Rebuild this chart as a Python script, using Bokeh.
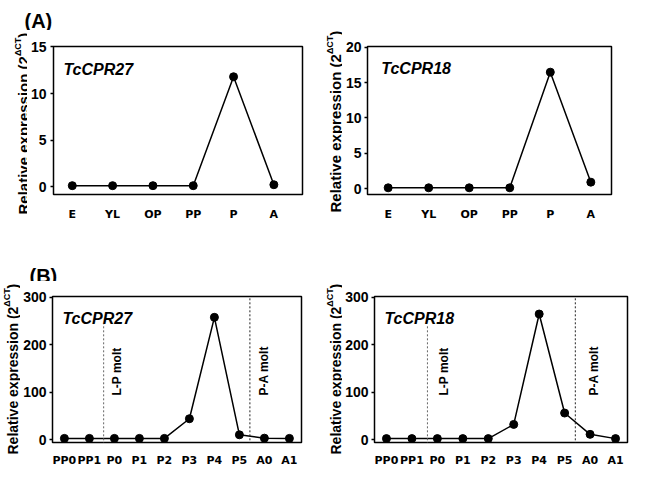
from math import pi
from bokeh.plotting import figure
from bokeh.layouts import row, column
from bokeh.models import FixedTicker, Label, Range1d
from bokeh.embed import file_html
from bokeh.resources import INLINE

# ---------------- data ----------------
stages_a = ["E", "YL", "OP", "PP", "P", "A"]
a27 = [0.1, 0.1, 0.1, 0.1, 11.8, 0.2]
a18 = [0.1, 0.1, 0.1, 0.1, 16.5, 0.9]

stages_b = ["PP0", "PP1", "P0", "P1", "P2", "P3", "P4", "P5", "A0", "A1"]
b27 = [2.5, 2.5, 2.5, 2.5, 2.5, 44, 258, 10, 3, 2.5]
b18 = [2, 2, 2, 2, 2, 32, 265, 56, 11, 2]

yticks_a27 = [0, 5, 10, 15]
yticks_a18 = [0, 5, 10, 15, 20]
yticks_b = [0, 100, 200, 300]

molt_labels = ["L-P molt", "P-A molt"]
molt_x_27 = [1.57, 7.42]
molt_x_18 = [1.61, 7.42]
molt_top_27 = [244, 302]
molt_top_18 = [240, 302]

genes = ["TcCPR27", "TcCPR18"]
panel_tags = ["(A)", "(B)"]
ylabel_parts = ["Relative expression (2", "\u0394CT", ")"]

BOLD = "Liberation Sans"


def no_align(p):
    try:
        p.frame_align = False
    except Exception:
        pass


def make(cats, vals, xr, yr, yticks, w, h, bl, br, bt, bb, tick_out, ystand, xstand):
    p = figure(width=w, height=h, x_range=Range1d(*xr), y_range=Range1d(*yr),
               output_backend="svg", toolbar_location=None, title=None,
               min_border_left=bl, min_border_right=br,
               min_border_top=bt, min_border_bottom=bb)
    no_align(p)
    p.background_fill_color = "white"
    p.border_fill_color = "white"
    p.outline_line_color = "black"
    p.outline_line_width = 1.5
    p.xgrid.visible = False
    p.ygrid.visible = False
    x = list(range(len(cats)))
    p.line(x, vals, line_color="black", line_width=1.5)
    p.scatter(x, vals, size=8, fill_color="black", line_color="black")

    p.xaxis.ticker = FixedTicker(ticks=x)
    p.xaxis.major_label_overrides = {i: c for i, c in enumerate(cats)}
    p.xaxis.axis_line_color = None
    p.xaxis.major_tick_out = 0
    p.xaxis.major_tick_in = 0
    p.xaxis.minor_tick_line_color = None
    p.xaxis.major_label_standoff = xstand
    p.xaxis.major_label_text_font = "DejaVu Sans"
    p.xaxis.major_label_text_font_style = "bold"
    p.xaxis.major_label_text_font_size = "11px"
    p.xaxis.major_label_text_color = "black"

    p.yaxis.ticker = FixedTicker(ticks=yticks)
    p.yaxis.axis_line_color = None
    p.yaxis.major_tick_out = tick_out
    p.yaxis.major_tick_in = 0
    p.yaxis.major_tick_line_width = 1.5
    p.yaxis.major_tick_line_color = "black"
    p.yaxis.minor_tick_line_color = None
    p.yaxis.major_label_standoff = ystand
    p.yaxis.major_label_text_font = BOLD
    p.yaxis.major_label_text_font_style = "bold"
    p.yaxis.major_label_text_font_size = "14px"
    p.yaxis.major_label_text_color = "black"
    return p


def text(p, x, y, t, size, style="bold", angle=0.0, color="black"):
    p.add_layout(Label(x=x, y=y, text=t, text_font=BOLD, text_font_style=style,
                       text_font_size=size, text_color=color, angle=angle,
                       text_align="left", text_baseline="alphabetic"))


def strip(w, h):
    # blank figure whose frame fills the canvas; pixel-like coordinates (y from top)
    s = figure(width=w, height=h, x_range=Range1d(0, w), y_range=Range1d(h, 0),
               output_backend="svg", toolbar_location=None, title=None,
               x_axis_location=None, y_axis_location=None,
               min_border_left=0, min_border_right=0,
               min_border_top=0, min_border_bottom=0)
    no_align(s)
    s.outline_line_color = None
    s.xgrid.visible = False
    s.ygrid.visible = False
    s.background_fill_color = "white"
    s.border_fill_color = "white"
    return s


def ylabel_strip(w, h, xb, yb, fs, main_len, sup_len):
    s = strip(w, h)
    text(s, xb, yb, ylabel_parts[0], "%gpx" % fs, angle=pi / 2)
    text(s, xb - 6, yb - main_len, ylabel_parts[1], "9px", angle=pi / 2)
    text(s, xb, yb - main_len - sup_len, ylabel_parts[2], "%gpx" % fs, angle=pi / 2)
    return s


def molts(p, xs, tops, label_x, label_y):
    colors = ["#666666", "#222222"]
    for i in range(len(xs)):
        p.segment(x0=[xs[i]], y0=[-10], x1=[xs[i]], y1=[tops[i]],
                  line_color=colors[i], line_width=1, line_dash="2 2")
        text(p, label_x[i], label_y, molt_labels[i], "12px", angle=pi / 2)


# ---------------- panel A (row height 223) ----------------
tagA = strip(312, 30)
text(tagA, 24, 20, panel_tags[0], "20px")
ylA27 = ylabel_strip(27, 193, 23, 184, 15, 158.4, 18.3)
pa27 = make(stages_a, a27, (-0.466, 5.71), (-0.85, 15.05), yticks_a27,
            285, 193, 23, 10, 16, 28, 3, 4, 13)
text(pa27, -0.22, 12.6, genes[0], "16px", style="bold italic")
cellA27 = column(tagA, row(ylA27, pa27))

ylA18 = ylabel_strip(30, 223, 23, 212, 15, 158.4, 18.3)
pa18 = make(stages_a, a18, (-0.51, 5.51), (-0.85, 20.14), yticks_a18,
            287, 223, 22, 18, 46, 28, 3, 3, 13)
text(pa18, -0.17, 17.0, genes[1], "16px", style="bold italic")
cellA18 = row(ylA18, pa18)

# ---------------- panel B (row height 246) ----------------
tagB = strip(312, 58)
text(tagB, 29, 52, panel_tags[1], "20px")
ylB27 = ylabel_strip(20, 188, 12, 173, 14, 147.8, 18.3)
pb27 = make(stages_b, b27, (-0.476, 9.484), (-6.2, 302), yticks_b,
            292, 188, 30, 11, 15, 24, 3, 3, 11)
text(pb27, -0.08, 256.6, genes[0], "16px", style="bold italic")
molts(pb27, molt_x_27, molt_top_27, [2.1, 8.0], 93)
cellB27 = column(tagB, row(ylB27, pb27))

ylB18 = ylabel_strip(30, 246, 23, 231, 14, 147.8, 18.3)
pb18 = make(stages_b, b18, (-0.47, 9.47), (-6.2, 302), yticks_b,
            287, 246, 32, 2, 73, 24, 3, 3, 11)
text(pb18, -0.08, 256.6, genes[1], "16px", style="bold italic")
molts(pb18, molt_x_18, molt_top_18, [2.28, 8.14], 93)
cellB18 = row(ylB18, pb18)

layout = column(row(cellA27, cellA18), row(cellB27, cellB18))

open("out.html", "w").write(file_html(layout, INLINE))
